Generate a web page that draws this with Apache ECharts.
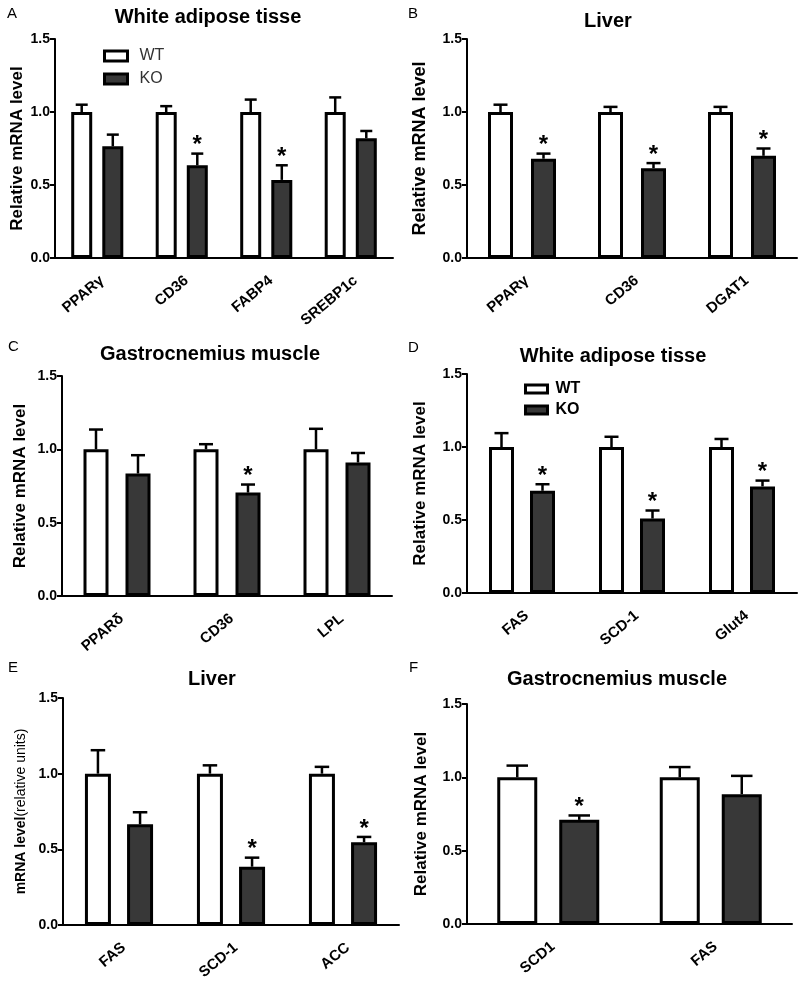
<!DOCTYPE html>
<html>
<head>
<meta charset="utf-8">
<script src="https://cdn.jsdelivr.net/npm/echarts@6/dist/echarts.min.js"></script>
<style>html,body{margin:0;padding:0;background:#fff}#c{width:800px;height:987px}</style>
</head>
<body>
<div id="c"></div>
<script>
// ---------- DATA ----------
const yTicks = [0, 0.5, 1.0, 1.5];
const seriesNames = ['WT', 'KO'];

const aTitle = 'White adipose tisse';
const aCats = ['PPARγ', 'CD36', 'FABP4', 'SREBP1c'];
const aWT = [1.0, 1.0, 1.0, 1.0];
const aWTErr = [0.05, 0.04, 0.085, 0.10];
const aKO = [0.765, 0.635, 0.535, 0.82];
const aKOErr = [0.08, 0.08, 0.10, 0.05];
const aSig = [0, 1, 1, 0];

const bTitle = 'Liver';
const bCats = ['PPARγ', 'CD36', 'DGAT1'];
const bWT = [1.0, 1.0, 1.0];
const bWTErr = [0.05, 0.035, 0.035];
const bKO = [0.68, 0.615, 0.70];
const bKOErr = [0.035, 0.035, 0.05];
const bSig = [1, 1, 1];

const cTitle = 'Gastrocnemius muscle';
const cCats = ['PPARδ', 'CD36', 'LPL'];
const cWT = [1.0, 1.0, 1.0];
const cWTErr = [0.135, 0.035, 0.14];
const cKO = [0.835, 0.705, 0.91];
const cKOErr = [0.125, 0.055, 0.065];
const cSig = [0, 1, 0];

const dTitle = 'White adipose tisse';
const dCats = ['FAS', 'SCD-1', 'Glut4'];
const dWT = [1.0, 1.0, 1.0];
const dWTErr = [0.095, 0.07, 0.055];
const dKO = [0.70, 0.51, 0.73];
const dKOErr = [0.045, 0.055, 0.04];
const dSig = [1, 1, 1];

const eTitle = 'Liver';
const eCats = ['FAS', 'SCD-1', 'ACC'];
const eWT = [1.0, 1.0, 1.0];
const eWTErr = [0.155, 0.055, 0.045];
const eKO = [0.665, 0.385, 0.547];
const eKOErr = [0.08, 0.06, 0.035];
const eSig = [0, 1, 1];

const fTitle = 'Gastrocnemius muscle';
const fCats = ['SCD1', 'FAS'];
const fWT = [1.0, 1.0];
const fWTErr = [0.08, 0.07];
const fKO = [0.71, 0.885];
const fKOErr = [0.03, 0.125];
const fSig = [1, 0];

const yLabelStd = 'Relative mRNA level';

// ---------- LAYOUT ----------
const FF = '"Liberation Sans", Arial, Helvetica, sans-serif';
const KO_FILL = '#383838';

const panels = [
  {letter:'A', title:aTitle, cats:aCats, wt:aWT, wtErr:aWTErr, ko:aKO, koErr:aKOErr, sig:aSig,
   grid:{left:55, top:39, width:338, height:219}, bw:21, gap:0.48, nameGap:29, nameSize:17,
   titleX:208, titleY:17, letterX:7, letterY:14},
  {letter:'B', title:bTitle, cats:bCats, wt:bWT, wtErr:bWTErr, ko:bKO, koErr:bKOErr, sig:bSig,
   grid:{left:467, top:39, width:330, height:219}, bw:25, gap:0.72, nameGap:38, nameSize:18,
   titleX:608, titleY:21, letterX:408, letterY:14},
  {letter:'C', title:cTitle, cats:cCats, wt:cWT, wtErr:cWTErr, ko:cKO, koErr:cKOErr, sig:cSig,
   grid:{left:62, top:376, width:330, height:220}, bw:25, gap:0.68, nameGap:33, nameSize:17,
   titleX:210, titleY:354, letterX:8, letterY:347},
  {letter:'D', title:dTitle, cats:dCats, wt:dWT, wtErr:dWTErr, ko:dKO, koErr:dKOErr, sig:dSig,
   grid:{left:467, top:374, width:330, height:219}, bw:25, gap:0.64, nameGap:38, nameSize:17,
   titleX:613, titleY:356, letterX:408, letterY:348},
  {letter:'E', title:eTitle, cats:eCats, wt:eWT, wtErr:eWTErr, ko:eKO, koErr:eKOErr, sig:eSig,
   grid:{left:63, top:698, width:336, height:227}, bw:26, gap:0.62, nameGap:35, nameSize:14, rich:true,
   titleX:212, titleY:679, letterX:8, letterY:668},
  {letter:'F', title:fTitle, cats:fCats, wt:fWT, wtErr:fWTErr, ko:fKO, koErr:fKOErr, sig:fSig,
   grid:{left:467, top:704, width:325, height:220}, bw:40, gap:0.55, nameGap:37, nameSize:17,
   titleX:617, titleY:679, letterX:409, letterY:668}
];

function errSeries(gi, means, errs, sig, side, spacing, capW) {
  return {
    type: 'custom', xAxisIndex: gi, yAxisIndex: gi, z: 5, silent: true,
    data: means.map((m, i) => [i, m, errs[i], sig ? sig[i] : 0]),
    renderItem: function (params, api) {
      const i = api.value(0), m = api.value(1), e = api.value(2), s = api.value(3);
      const base = api.coord([i, m]);
      const top = api.coord([i, m + e]);
      const x = base[0] + side * spacing / 2;
      const ch = [
        {type:'line', shape:{x1:x, y1:base[1], x2:x, y2:top[1]}, style:{stroke:'#000', lineWidth:2.5}},
        {type:'line', shape:{x1:x - capW/2, y1:top[1], x2:x + capW/2, y2:top[1]}, style:{stroke:'#000', lineWidth:2.5}}
      ];
      if (s) ch.push({type:'text', x:x, y:top[1] + 4,
        style:{text:'*', fontSize:24, fontWeight:'bold', fontFamily:FF, align:'center', verticalAlign:'bottom', fill:'#000'}});
      return {type:'group', children: ch};
    }
  };
}

const grids = [], xAxes = [], yAxes = [], series = [], graphics = [];
panels.forEach((p, gi) => {
  grids.push(Object.assign({containLabel:false}, p.grid));
  xAxes.push({
    type:'category', gridIndex:gi, data:p.cats, boundaryGap:true,
    axisLine:{lineStyle:{color:'#000', width:2}},
    axisTick:{alignWithLabel:true, length:5, lineStyle:{color:'#000', width:2}},
    axisLabel:{rotate:40, margin:15, align:'right', verticalAlign:'top', color:'#000', fontSize:15, fontWeight:'bold', fontFamily:FF, interval:0}
  });
  const yName = p.rich ? '{b|mRNA level}{n|(relative units)}' : yLabelStd;
  yAxes.push({
    type:'value', gridIndex:gi, min:yTicks[0], max:yTicks[yTicks.length-1], interval:yTicks[1]-yTicks[0],
    name:yName, nameLocation:'middle', nameGap:p.nameGap,
    nameTextStyle:{fontSize:p.nameSize, fontWeight:'bold', color:'#000', fontFamily:FF,
      rich:{b:{fontSize:14, fontWeight:'bold', fontFamily:FF, color:'#000'}, n:{fontSize:14, fontWeight:'normal', fontFamily:FF, color:'#000'}}},
    axisLine:{show:true, lineStyle:{color:'#000', width:2}},
    axisTick:{show:true, length:5, lineStyle:{color:'#000', width:2}},
    axisLabel:{margin:5, color:'#000', fontSize:14, fontWeight:'bold', fontFamily:FF,
      formatter: v => v.toFixed(1)},
    splitLine:{show:false}
  });
  series.push({
    name:seriesNames[0], type:'bar', xAxisIndex:gi, yAxisIndex:gi, data:p.wt, barWidth:p.bw, barGap:(p.gap*100)+'%',
    itemStyle:{color:'#fff', borderColor:'#000', borderWidth:3}, z:3
  });
  series.push({
    name:seriesNames[1], type:'bar', xAxisIndex:gi, yAxisIndex:gi, data:p.ko, barWidth:p.bw, barGap:(p.gap*100)+'%',
    itemStyle:{color:KO_FILL, borderColor:'#000', borderWidth:3}, z:3
  });
  const spacing = p.bw * (1 + p.gap);
  const capW = (p.bw + 3) * 0.5;
  series.push(errSeries(gi, p.wt, p.wtErr, null, -1, spacing, capW));
  series.push(errSeries(gi, p.ko, p.koErr, p.sig, 1, spacing, capW));
  graphics.push({type:'text', x:p.titleX, y:p.titleY,
    style:{text:p.title, fontSize:20, fontWeight:'bold', fontFamily:FF, fill:'#000', align:'center', verticalAlign:'middle'}});
  graphics.push({type:'text', x:p.letterX, y:p.letterY,
    style:{text:p.letter, fontSize:15, fontFamily:FF, fill:'#000', align:'left', verticalAlign:'middle'}});
});

const option = {
  animation:false,
  backgroundColor:'#fff',
  textStyle:{fontFamily:FF},
  grid:grids, xAxis:xAxes, yAxis:yAxes, series:series,
  graphic:graphics,
  legend:[
    {data:seriesNames, orient:'vertical', left:103, top:48, padding:0, itemWidth:23, itemHeight:10, itemGap:7, icon:'rect',
     selectedMode:false, itemStyle:{borderWidth:3, borderColor:'#000'},
     textStyle:{fontSize:16, color:'#333', fontFamily:FF, padding:[0,0,0,7]}},
    {data:seriesNames, orient:'vertical', left:524, top:381, padding:0, itemWidth:22, itemHeight:8, itemGap:5, icon:'rect',
     selectedMode:false, itemStyle:{borderWidth:3, borderColor:'#000'},
     textStyle:{fontSize:16, fontWeight:'bold', color:'#000', fontFamily:FF, padding:[0,0,0,3]}}
  ]
};

const chart = echarts.init(document.getElementById('c'), null, {renderer:'canvas'});
chart.setOption(option);
</script>
</body>
</html>
